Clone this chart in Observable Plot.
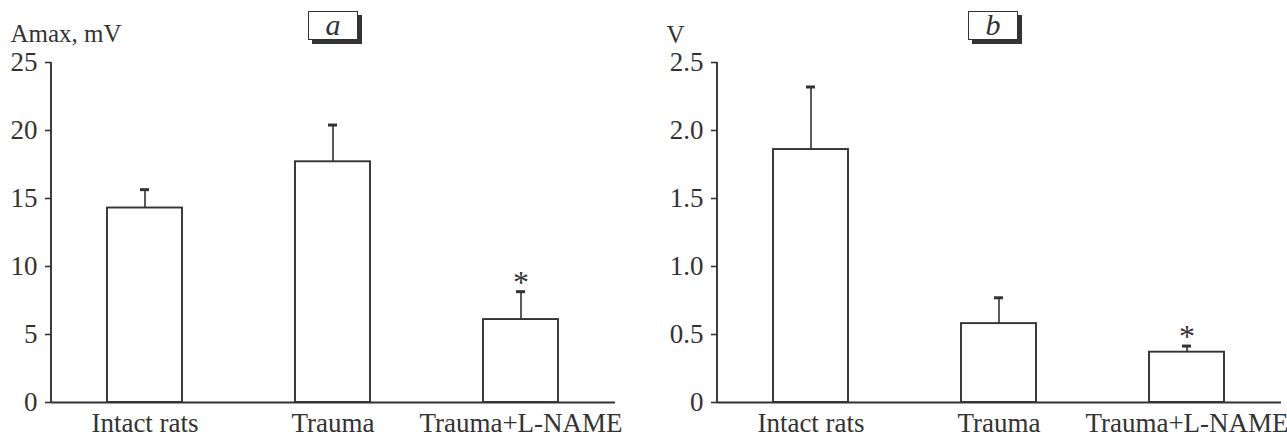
<!DOCTYPE html>
<html><head><meta charset="utf-8">
<script src="https://cdn.jsdelivr.net/npm/d3@7"></script>
<script src="https://cdn.jsdelivr.net/npm/@observablehq/plot@0.6"></script>
<style>
body{margin:0;background:#fff;}
#wrap{position:relative;width:1287px;height:437px;display:flex;}
.tag{position:absolute;top:11px;width:48px;height:27px;border:1px solid #333;box-shadow:4px 4px 0 #333;background:#fff;font:italic 30px "Liberation Serif",serif;color:#333;text-align:center;line-height:25px;}
svg{font-family:"Liberation Serif",serif;}
</style></head><body>
<div id="wrap"></div>
<script>
const categories = ["Intact rats", "Trauma", "Trauma+L-NAME"];
const amaxMean = [14.3, 17.7, 6.1];
const amaxSem = [1.35, 2.7, 2.05];
const vMean = [1.86, 0.58, 0.37];
const vSem = [0.46, 0.19, 0.045];
const significant = [false, false, true];
const amaxTicks = [0, 5, 10, 15, 20, 25];
const amaxTickLabels = ["0", "5", "10", "15", "20", "25"];
const vTicks = [0, 0.5, 1.0, 1.5, 2.0, 2.5];
const vTickLabels = ["0", "0.5", "1.0", "1.5", "2.0", "2.5"];
const panelTags = ["a", "b"];
const yLabels = ["Amax, mV", "V"];

const ink = "#333";

function panel({means, sems, ticks, tickLabels, yLabel, width, marginLeft, marginRight, labelDx, labelDy}) {
  const data = categories.map((c, i) => ({cat: c, mean: means[i], cap: means[i] + sems[i], sig: significant[i]}));
  return Plot.plot({
    width, height: 437,
    marginLeft, marginRight, marginTop: 62, marginBottom: 35,
    style: {fontFamily: "Liberation Serif, serif", color: ink, background: "#fff", overflow: "visible"},
    x: {domain: categories, paddingInner: 0.601, paddingOuter: 0.3},
    y: {domain: [ticks[0], ticks[ticks.length - 1]]},
    marks: [
      Plot.ruleX(data, {x: "cat", y1: "mean", y2: "cap", stroke: ink, strokeWidth: 1.6}),
      Plot.tickY(data, {x: "cat", y: "cap", stroke: ink, strokeWidth: 3, insetLeft: 33, insetRight: 33}),
      Plot.barY(data, {x: "cat", y: "mean", fill: "#fff", stroke: ink, strokeWidth: 1.9}),
      Plot.text(data.filter(d => d.sig), {x: "cat", y: "cap", text: () => "*", dy: -9, fontSize: 32, fill: ink}),
      Plot.ruleY([ticks[0]], {stroke: ink, strokeWidth: 1.9}),
      Plot.axisY({ticks, tickFormat: (d) => tickLabels[ticks.indexOf(d)], tickSize: 6, tickPadding: 8, fontSize: 27, label: null, stroke: ink, strokeWidth: 1.6, fill: ink}),
      Plot.axisX({tickSize: 0, tickPadding: 10, fontSize: 27, label: null, fill: ink}),
      Plot.text([yLabel], {frameAnchor: "top-left", dx: labelDx, dy: labelDy, textAnchor: "start", lineAnchor: "bottom", fontSize: 25, fill: ink})
    ]
  });
}

function withAxisLine(svg, marginLeft) {
  // vertical y-axis line along the frame's left edge
  const ns = "http://www.w3.org/2000/svg";
  const line = document.createElementNS(ns, "line");
  line.setAttribute("x1", marginLeft); line.setAttribute("x2", marginLeft);
  line.setAttribute("y1", 62); line.setAttribute("y2", 402);
  line.setAttribute("stroke", ink); line.setAttribute("stroke-width", 1.9);
  svg.appendChild(line);
  return svg;
}

const wrap = document.getElementById("wrap");
const left = panel({means: amaxMean, sems: amaxSem, ticks: amaxTicks, tickLabels: amaxTickLabels, yLabel: yLabels[0], width: 640, marginLeft: 51, marginRight: 25, labelDx: -41, labelDy: -21});
const right = panel({means: vMean, sems: vSem, ticks: vTicks, tickLabels: vTickLabels, yLabel: yLabels[1], width: 647, marginLeft: 77, marginRight: 6, labelDx: -51, labelDy: -20});
wrap.appendChild(withAxisLine(left, 51));
wrap.appendChild(withAxisLine(right, 77));

[[panelTags[0], 308], [panelTags[1], 968]].forEach(([t, x]) => {
  const d = document.createElement("div");
  d.className = "tag"; d.style.left = x + "px"; d.textContent = t;
  wrap.appendChild(d);
});
</script>
</body></html>
